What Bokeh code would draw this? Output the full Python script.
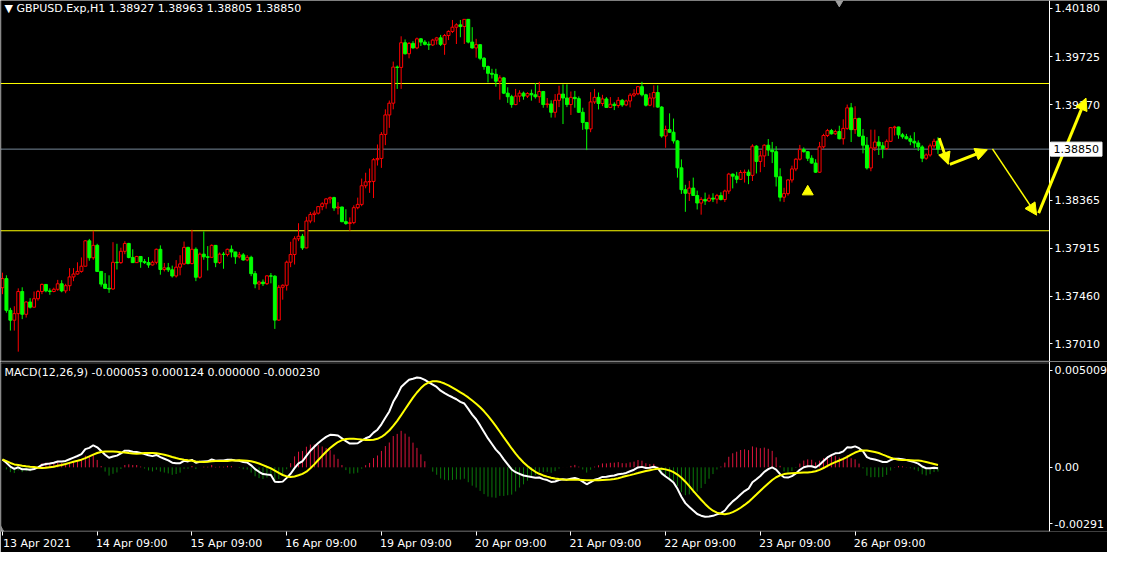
import numpy as np
import pandas as pd
from bokeh.plotting import figure
from bokeh.layouts import column
from bokeh.models import (Range1d, FixedTicker, Label, Arrow, NormalHead, BoxAnnotation,
                          ColumnDataSource, NumeralTickFormatter)
from bokeh.embed import file_html
from bokeh.resources import INLINE

# ---------------- data (GBPUSD H1) ----------------
first_open = 1.37541
close = [
    1.37627, 1.37327, 1.37234, 1.37296, 1.37505, 1.37290, 1.37406, 1.37357, 1.37437, 1.37505,
    1.37572, 1.37511, 1.37505, 1.37526, 1.37578, 1.37511, 1.37560, 1.37643, 1.37670, 1.37695,
    1.37744, 1.37984, 1.37824, 1.37941, 1.37695, 1.37575, 1.37535, 1.37529, 1.37781, 1.37778,
    1.37885, 1.37959, 1.37827, 1.37778, 1.37836, 1.37787, 1.37778, 1.37756, 1.37781, 1.37904,
    1.37713, 1.37729, 1.37710, 1.37652, 1.37735, 1.37766, 1.37922, 1.37769, 1.37904, 1.37640,
    1.37858, 1.37833, 1.37828, 1.37941, 1.37778, 1.37858, 1.37855, 1.37904, 1.37879, 1.37833,
    1.37851, 1.37803, 1.37828, 1.37674, 1.37576, 1.37594, 1.37579, 1.37653, 1.37650, 1.37235,
    1.37545, 1.37564, 1.37782, 1.37855, 1.38003, 1.38027, 1.37917, 1.38171, 1.38233, 1.38245,
    1.38307, 1.38334, 1.38380, 1.38392, 1.38294, 1.38303, 1.38165, 1.38147, 1.38156, 1.38297,
    1.38328, 1.38504, 1.38541, 1.38545, 1.38750, 1.38762, 1.38989, 1.39173, 1.39284, 1.39625,
    1.39622, 1.39855, 1.39751, 1.39849, 1.39806, 1.39892, 1.39861, 1.39840, 1.39834, 1.39880,
    1.39901, 1.39840, 1.39923, 1.39962, 1.40002, 1.40024, 1.40008, 1.40076, 1.39861, 1.39806,
    1.39837, 1.39708, 1.39630, 1.39566, 1.39557, 1.39492, 1.39523, 1.39379, 1.39345, 1.39271,
    1.39351, 1.39379, 1.39351, 1.39376, 1.39363, 1.39345, 1.39394, 1.39271, 1.39277, 1.39198,
    1.39311, 1.39370, 1.39333, 1.39271, 1.39339, 1.39327, 1.39198, 1.39102, 1.39041, 1.39296,
    1.39339, 1.39281, 1.39324, 1.39244, 1.39274, 1.39262, 1.39311, 1.39268, 1.39305, 1.39360,
    1.39373, 1.39440, 1.39363, 1.39265, 1.39333, 1.39385, 1.39247, 1.38974, 1.39035, 1.39010,
    1.38928, 1.38673, 1.38467, 1.38433, 1.38482, 1.38412, 1.38341, 1.38375, 1.38360, 1.38387,
    1.38378, 1.38411, 1.38374, 1.38454, 1.38614, 1.38595, 1.38565, 1.38629, 1.38632, 1.38602,
    1.38878, 1.38734, 1.38786, 1.38887, 1.38841, 1.38826, 1.38589, 1.38396, 1.38430, 1.38559,
    1.38663, 1.38755, 1.38847, 1.38826, 1.38764, 1.38718, 1.38632, 1.38872, 1.38979, 1.39025,
    1.38995, 1.39016, 1.38948, 1.39046, 1.39240, 1.39034, 1.39139, 1.38973, 1.38887, 1.38672,
    1.38862, 1.38917, 1.38881, 1.38856, 1.38924, 1.39053, 1.39059, 1.38985, 1.38967, 1.38948,
    1.38924, 1.38908, 1.38871, 1.38764, 1.38795, 1.38881, 1.38924, 1.38850,
]
high = [
    1.37683, 1.37658, 1.37351, 1.37366, 1.37535, 1.37545, 1.37412, 1.37443, 1.37505, 1.37520,
    1.37581, 1.37572, 1.37535, 1.37541, 1.37615, 1.37612, 1.37578, 1.37726, 1.37726, 1.37781,
    1.37827, 1.37990, 1.38002, 1.38079, 1.37956, 1.37695, 1.37680, 1.37658, 1.37971, 1.37956,
    1.37919, 1.37980, 1.37965, 1.37904, 1.37842, 1.37840, 1.37812, 1.37830, 1.37796, 1.37910,
    1.37941, 1.37775, 1.37775, 1.37750, 1.37802, 1.37848, 1.37977, 1.37928, 1.38088, 1.37922,
    1.37873, 1.38073, 1.37934, 1.37950, 1.37941, 1.37873, 1.37879, 1.37910, 1.37941, 1.37876,
    1.37879, 1.37868, 1.37849, 1.37843, 1.37699, 1.37607, 1.37619, 1.37659, 1.37680, 1.37659,
    1.37567, 1.37573, 1.37797, 1.37975, 1.38027, 1.38150, 1.38049, 1.38211, 1.38257, 1.38270,
    1.38313, 1.38349, 1.38386, 1.38402, 1.38400, 1.38349, 1.38307, 1.38282, 1.38205, 1.38319,
    1.38392, 1.38572, 1.38627, 1.38667, 1.38765, 1.38894, 1.39011, 1.39226, 1.39309, 1.39677,
    1.39640, 1.39916, 1.39886, 1.39861, 1.39870, 1.39904, 1.39898, 1.39880, 1.39867, 1.39892,
    1.39910, 1.39929, 1.39938, 1.39972, 1.40070, 1.40039, 1.40070, 1.40079, 1.40079, 1.40002,
    1.39892, 1.39840, 1.39720, 1.39640, 1.39609, 1.39609, 1.39548, 1.39532, 1.39434, 1.39363,
    1.39419, 1.39406, 1.39394, 1.39388, 1.39413, 1.39474, 1.39486, 1.39400, 1.39333, 1.39311,
    1.39370, 1.39449, 1.39462, 1.39462, 1.39394, 1.39400, 1.39348, 1.39241, 1.39102, 1.39388,
    1.39419, 1.39385, 1.39363, 1.39342, 1.39342, 1.39293, 1.39342, 1.39324, 1.39317, 1.39379,
    1.39416, 1.39446, 1.39486, 1.39373, 1.39379, 1.39452, 1.39452, 1.39256, 1.39072, 1.39188,
    1.39139, 1.38937, 1.38753, 1.38513, 1.38550, 1.38581, 1.38458, 1.38396, 1.38439, 1.38421,
    1.38433, 1.38427, 1.38442, 1.38467, 1.38626, 1.38620, 1.38635, 1.38651, 1.38657, 1.38657,
    1.38896, 1.38887, 1.38835, 1.38896, 1.38945, 1.38918, 1.38878, 1.38669, 1.38485, 1.38565,
    1.38694, 1.38764, 1.38890, 1.38866, 1.38830, 1.38792, 1.38755, 1.38918, 1.38995, 1.39041,
    1.39041, 1.39034, 1.39071, 1.39132, 1.39271, 1.39286, 1.39255, 1.39148, 1.39040, 1.38964,
    1.39034, 1.39034, 1.38973, 1.38917, 1.38942, 1.39059, 1.39071, 1.39062, 1.39003, 1.38994,
    1.38979, 1.39010, 1.38933, 1.38887, 1.38810, 1.38902, 1.38948, 1.38963,
]
low = [
    1.37480, 1.37305, 1.37136, 1.37136, 1.36937, 1.37244, 1.37259, 1.37345, 1.37357, 1.37419,
    1.37480, 1.37498, 1.37474, 1.37498, 1.37511, 1.37498, 1.37489, 1.37511, 1.37603, 1.37664,
    1.37683, 1.37744, 1.37796, 1.37805, 1.37689, 1.37551, 1.37529, 1.37492, 1.37523, 1.37713,
    1.37766, 1.37858, 1.37818, 1.37775, 1.37775, 1.37729, 1.37766, 1.37729, 1.37750, 1.37762,
    1.37664, 1.37695, 1.37689, 1.37637, 1.37637, 1.37658, 1.37756, 1.37762, 1.37762, 1.37603,
    1.37627, 1.37805, 1.37704, 1.37836, 1.37735, 1.37766, 1.37720, 1.37836, 1.37827, 1.37766,
    1.37818, 1.37797, 1.37791, 1.37650, 1.37536, 1.37521, 1.37557, 1.37567, 1.37582, 1.37152,
    1.37229, 1.37428, 1.37514, 1.37735, 1.37760, 1.37981, 1.37898, 1.37914, 1.38150, 1.38159,
    1.38233, 1.38273, 1.38288, 1.38337, 1.38267, 1.38233, 1.38159, 1.38135, 1.38079, 1.38141,
    1.38282, 1.38311, 1.38480, 1.38437, 1.38388, 1.38695, 1.38673, 1.38888, 1.39051, 1.39226,
    1.39419, 1.39419, 1.39744, 1.39708, 1.39800, 1.39794, 1.39824, 1.39830, 1.39787, 1.39824,
    1.39837, 1.39824, 1.39741, 1.39880, 1.39947, 1.39843, 1.39907, 1.39843, 1.39849, 1.39800,
    1.39714, 1.39690, 1.39600, 1.39480, 1.39517, 1.39440, 1.39317, 1.39370, 1.39287, 1.39241,
    1.39265, 1.39296, 1.39317, 1.39333, 1.39308, 1.39327, 1.39287, 1.39241, 1.39241, 1.39148,
    1.39148, 1.39247, 1.39087, 1.39247, 1.39173, 1.39241, 1.39191, 1.39032, 1.38841, 1.39010,
    1.39277, 1.39225, 1.39256, 1.39241, 1.39238, 1.39219, 1.39241, 1.39250, 1.39256, 1.39244,
    1.39342, 1.39360, 1.39348, 1.39253, 1.39256, 1.39244, 1.39241, 1.38958, 1.38863, 1.39004,
    1.38903, 1.38581, 1.38427, 1.38258, 1.38360, 1.38409, 1.38280, 1.38231, 1.38323, 1.38350,
    1.38350, 1.38335, 1.38365, 1.38350, 1.38427, 1.38479, 1.38528, 1.38559, 1.38534, 1.38519,
    1.38549, 1.38620, 1.38632, 1.38681, 1.38786, 1.38718, 1.38497, 1.38356, 1.38350, 1.38411,
    1.38534, 1.38642, 1.38743, 1.38817, 1.38737, 1.38712, 1.38626, 1.38626, 1.38856, 1.38964,
    1.38988, 1.38985, 1.38942, 1.38893, 1.39034, 1.38917, 1.38994, 1.38964, 1.38810, 1.38657,
    1.38641, 1.38832, 1.38795, 1.38764, 1.38841, 1.38917, 1.38979, 1.38948, 1.38948, 1.38942,
    1.38887, 1.38862, 1.38832, 1.38727, 1.38749, 1.38779, 1.38862, 1.38805,
]
last_bar_open = 1.38927

time_tick_bars = [0, 24, 48, 72, 96, 120, 144, 168, 192, 216]
time_tick_labels = ["13 Apr 2021", "14 Apr 09:00", "15 Apr 09:00", "16 Apr 09:00",
                    "19 Apr 09:00", "20 Apr 09:00", "21 Apr 09:00", "22 Apr 09:00",
                    "23 Apr 09:00", "26 Apr 09:00"]
price_ticks = [1.40180, 1.39725, 1.39270, 1.38365, 1.37915, 1.37460, 1.37010]
macd_ticks = [0.005009, 0.0, -0.00291]
macd_tick_labels = ["0.005009", "0.00", "-0.00291"]

levels = [1.39470, 1.38079]               # yellow horizontal lines
signal_bar, signal_price = 204, 1.38448   # yellow up-triangle mark
# drawn arrows: (bar, price) -> (bar, price)
arrow_x0 = [237.3, 240.0, 250.8, 262.5]
arrow_y0 = [1.38954, 1.38706, 1.38853, 1.38245]
arrow_x1 = [239.6, 249.5, 262.0, 274.5]
arrow_y1 = [1.38706, 1.38844, 1.38226, 1.39332]

# EMA state before the first visible bar (MACD starts slightly above zero)
ema12_seed, ema26_seed = 1.37470, 1.37440
hist_scale = 1.3

# ---------------- derived ----------------
n = len(close)
idx = np.arange(n)
c = np.array(close)
o = np.array([first_open] + close[:-1])
o[-1] = last_bar_open
h = np.maximum(np.array(high), np.maximum(o, c))
l = np.minimum(np.array(low), np.minimum(o, c))
up = c >= o
dn = ~up


def ema(x, period, seed):
    a = 2.0 / (period + 1)
    out = np.empty_like(x)
    prev = seed
    for i in range(len(x)):
        prev = a * x[i] + (1 - a) * prev
        out[i] = prev
    return out


macd = ema(c, 12, ema12_seed) - ema(c, 26, ema26_seed)
signal = pd.Series(macd).rolling(9, min_periods=1).mean().to_numpy()
hist = (macd - signal) * hist_scale

# ---------------- layout ----------------
W = 1107
FRAME_PX = 1049                    # width of the chart area left of the price scale
BAR_PX = FRAME_PX / (1063 / 4.0)   # pixels per bar
H_MAIN = 361
H_MACD = 191
X0 = -0.5
AXIS_X = X0 + FRAME_PX / BAR_PX    # bar coordinate of the price scale line
x_range = Range1d(X0, X0 + W / BAR_PX)

FONT = "DejaVu Sans"
FS = "11px"


def style_axis(ax):
    ax.axis_line_color = "white"
    ax.major_tick_line_color = "white"
    ax.major_tick_in = 0
    ax.major_tick_out = 3
    ax.minor_tick_line_color = None
    ax.major_label_text_color = "white"
    ax.major_label_text_font = FONT
    ax.major_label_text_font_size = FS
    ax.major_label_standoff = 2


# ---------------- main price panel ----------------
main_y = (1.36844, 1.40254)
main_ppx = (main_y[1] - main_y[0]) / H_MAIN
p = figure(width=W, height=H_MAIN, x_range=x_range, y_range=Range1d(*main_y),
           output_backend="svg", toolbar_location=None,
           background_fill_color="black", border_fill_color="black",
           min_border_left=0, min_border_right=0, min_border_top=0, min_border_bottom=0,
           x_axis_location=None, y_axis_location="right", outline_line_color=None)
p.grid.visible = False
style_axis(p.yaxis[0])
p.yaxis[0].fixed_location = AXIS_X
p.yaxis[0].ticker = FixedTicker(ticks=price_ticks)
p.yaxis[0].formatter = NumeralTickFormatter(format="0.00000")

edge_x = X0 + 0.5 / BAR_PX
p.add_layout(BoxAnnotation(left=edge_x, right=AXIS_X, bottom=main_y[0] + 0.5 * main_ppx,
                           top=main_y[1] + 20 * main_ppx, fill_alpha=0,
                           line_color="white", line_width=1))

p.segment(x0=[X0] * len(levels), y0=levels, x1=[AXIS_X] * len(levels), y1=levels,
          line_color="#ffff00", line_width=1)
p.segment(x0=[X0], y0=[close[-1]], x1=[AXIS_X], y1=[close[-1]], line_color="#778899", line_width=1)

src_up = ColumnDataSource(dict(x=idx[up], o=o[up], c=c[up], h=h[up], l=l[up]))
src_dn = ColumnDataSource(dict(x=idx[dn], o=o[dn], c=c[dn], h=h[dn], l=l[dn]))
p.segment(x0="x", y0="l", x1="x", y1="h", source=src_up, line_color="#ff0000", line_width=1)
p.segment(x0="x", y0="l", x1="x", y1="h", source=src_dn, line_color="#00ff00", line_width=1)
p.vbar(x="x", width=0.75, top="c", bottom="o", source=src_up,
       fill_color="black", line_color="#ff0000", line_width=1)
p.vbar(x="x", width=0.75, top="o", bottom="c", source=src_dn,
       fill_color="#00ff00", line_color="#00ff00", line_width=1)

p.scatter(x=[signal_bar], y=[signal_price], marker="triangle", size=11,
          fill_color="#ffff00", line_color="#ffff00")
p.scatter(x=[212], y=[main_y[1]], marker="inverted_triangle", size=11,
          fill_color="#a0a0a0", line_color="#a0a0a0")

for i in range(len(arrow_x0)):
    lw = 1.5 if i == 2 else 3
    p.add_layout(Arrow(x_start=arrow_x0[i], y_start=arrow_y0[i], x_end=arrow_x1[i], y_end=arrow_y1[i],
                       line_color="#ffff00", line_width=lw,
                       end=NormalHead(size=12, fill_color="#ffff00", line_color="#ffff00")))

p.add_layout(Label(x=X0, y=price_ticks[0], x_offset=4,
                   text="▼ GBPUSD.Exp,H1   1.38927 1.38963 1.38805 1.38850",
                   text_color="white", text_font=FONT, text_font_size=FS, text_baseline="middle"))
price_tag = Label(x=AXIS_X, y=close[-1], x_offset=1, text=f"{close[-1]:.5f}",
                  text_color="black", text_font=FONT, text_font_size=FS, text_baseline="middle",
                  background_fill_color="white", border_line_color="white")
if "padding" in price_tag.properties():
    price_tag.padding = 3
p.add_layout(price_tag)

# ---------------- MACD panel ----------------
macd_y = (-0.00331, 0.00546)
H_MACD_FRAME = 171
macd_ppx = (macd_y[1] - macd_y[0]) / H_MACD_FRAME
m = figure(width=W, height=H_MACD, x_range=x_range, y_range=Range1d(*macd_y),
           output_backend="svg", toolbar_location=None,
           background_fill_color="black", border_fill_color="black",
           min_border_left=0, min_border_right=0, min_border_top=0,
           min_border_bottom=H_MACD - H_MACD_FRAME,
           x_axis_location="below", y_axis_location="right", outline_line_color=None)
m.grid.visible = False
style_axis(m.yaxis[0])
m.yaxis[0].fixed_location = AXIS_X
m.yaxis[0].ticker = FixedTicker(ticks=macd_ticks)
m.yaxis[0].major_label_overrides = {t: s for t, s in zip(macd_ticks, macd_tick_labels)}

m.add_layout(BoxAnnotation(left=edge_x, right=AXIS_X,
                           bottom=macd_y[0] + 0.5 * macd_ppx, top=macd_y[1] - 1.5 * macd_ppx,
                           fill_alpha=0, line_color="white", line_width=1))

LABEL_SHIFT = 8.75
xa = m.xaxis[0]
style_axis(xa)
xa.axis_line_color = None
xa.ticker = FixedTicker(ticks=[b + LABEL_SHIFT for b in time_tick_bars], minor_ticks=time_tick_bars)
xa.major_label_overrides = {b + LABEL_SHIFT: s for b, s in zip(time_tick_bars, time_tick_labels)}
xa.major_tick_out = 0
xa.minor_tick_line_color = "white"
xa.minor_tick_in = 0
xa.minor_tick_out = 4
xa.major_label_standoff = 1

pos = hist >= 0
m.segment(x0=idx[pos], y0=0, x1=idx[pos], y1=hist[pos], line_color="#dc143c", line_width=1)
m.segment(x0=idx[~pos], y0=0, x1=idx[~pos], y1=hist[~pos], line_color="#0a7a0a", line_width=1)
m.line(idx, macd, line_color="white", line_width=2)
m.line(idx, signal, line_color="#ffff00", line_width=2)
m.scatter(x=[X0], y=[macd_y[0]], marker="triangle", size=10, fill_color="#808080", line_color="#808080")

m.add_layout(Label(x=X0, y=0.0049, x_offset=4,
                   text="MACD(12,26,9) -0.000053 0.000124 0.000000 -0.000230",
                   text_color="white", text_font=FONT, text_font_size=FS, text_baseline="middle"))

layout = column(p, m)
open("out.html", "w").write(file_html(layout, INLINE))
